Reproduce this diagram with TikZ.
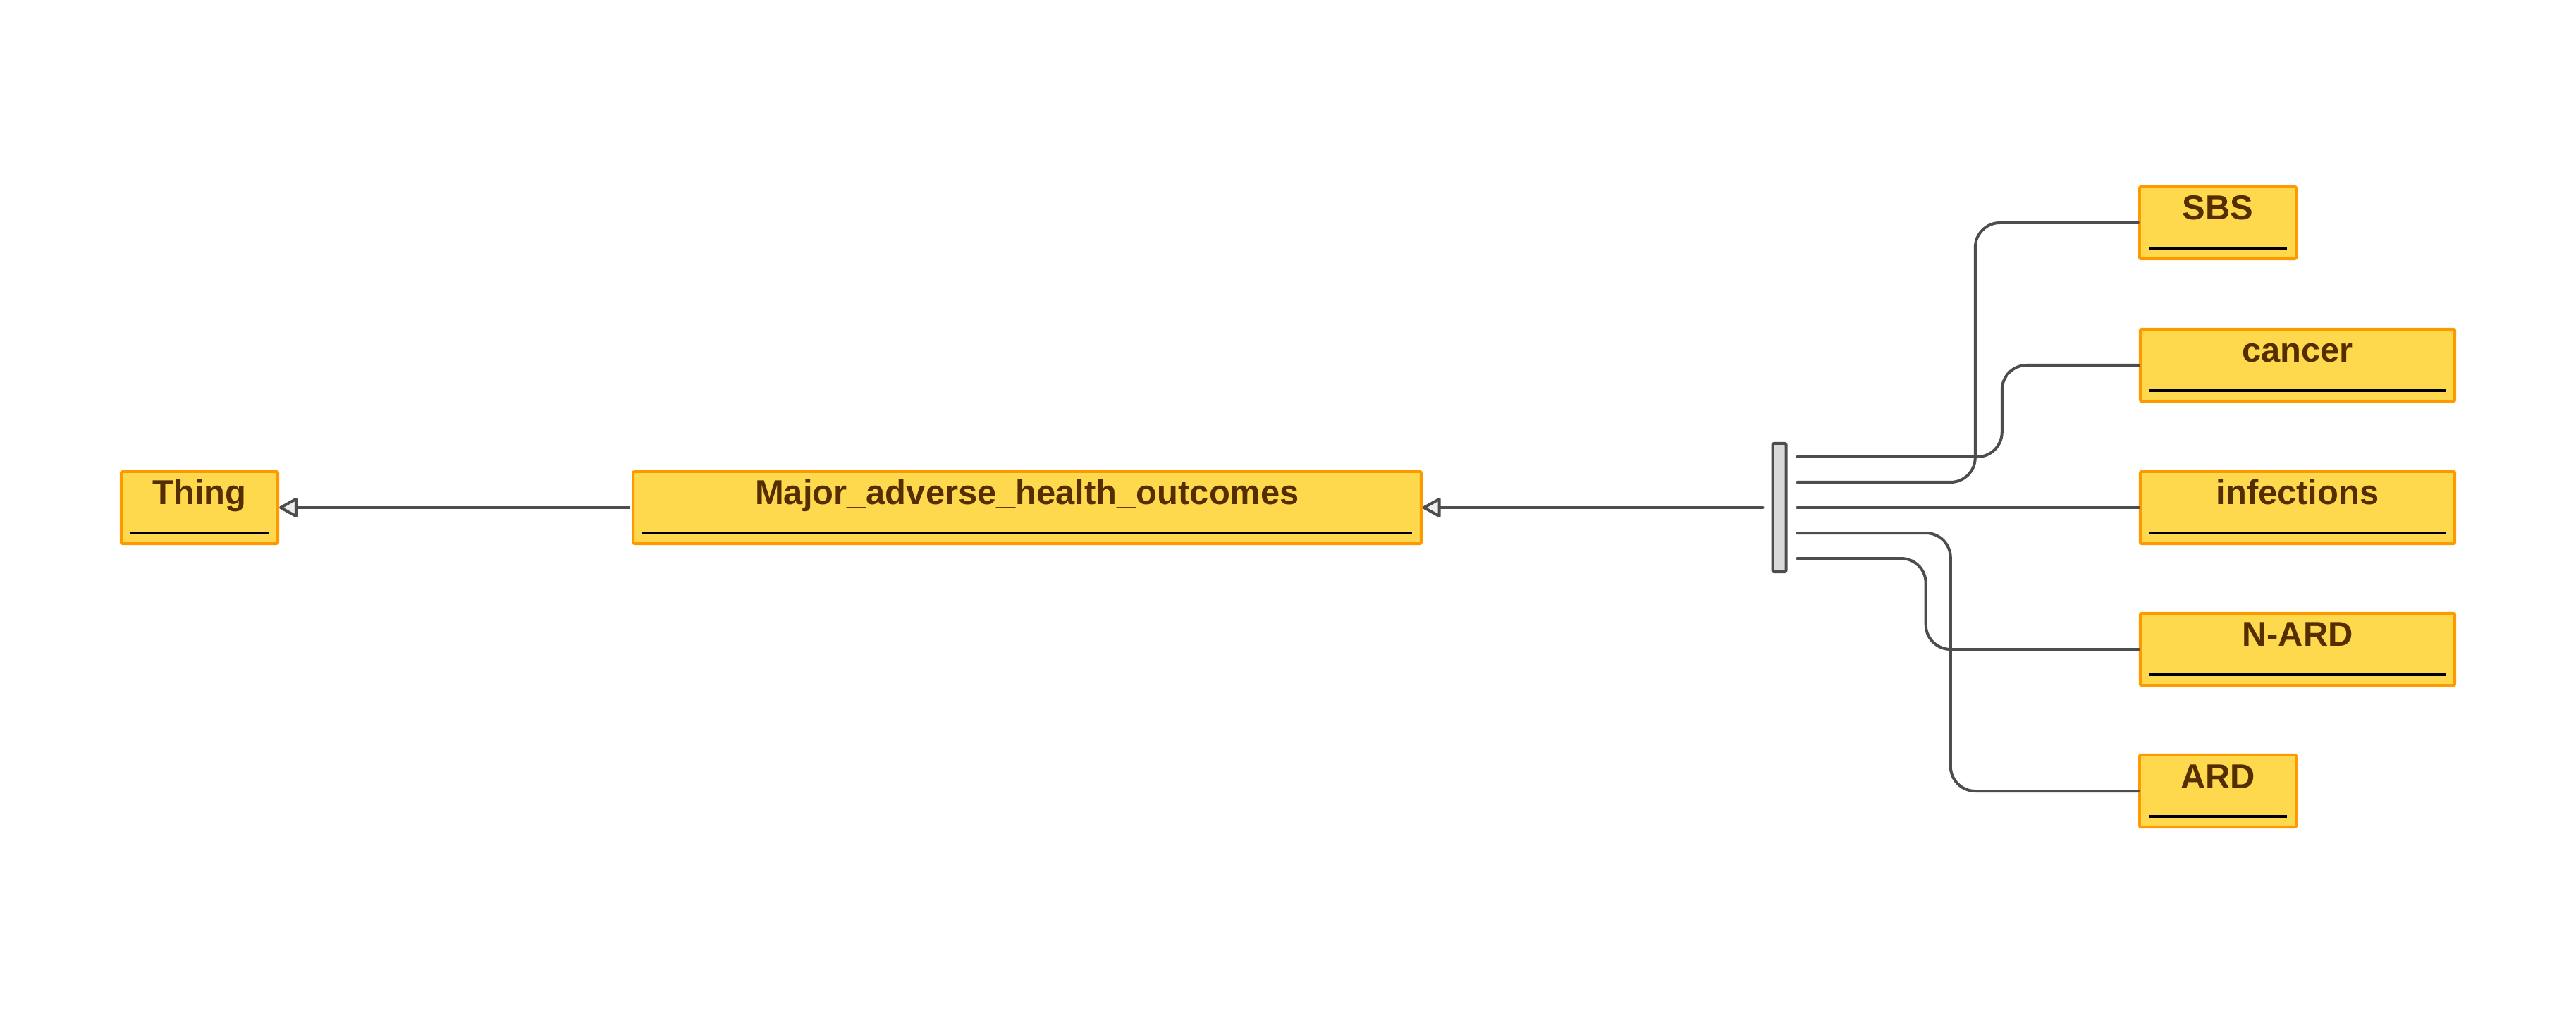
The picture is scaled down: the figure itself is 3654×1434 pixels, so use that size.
\documentclass[tikz,border=0pt]{standalone}
\usepackage{fontspec}
\setmainfont{Liberation Sans}
\usetikzlibrary{arrows.meta,calc}
\definecolor{boxfill}{HTML}{FFD94D}
\definecolor{boxline}{HTML}{FF9900}
\definecolor{boxtext}{HTML}{552E00}
\definecolor{conncol}{HTML}{4D4D4D}
\definecolor{tipfill}{HTML}{EEEEEE}
\definecolor{forkfill}{HTML}{D9D9D9}
\begin{document}
\begin{tikzpicture}[x=0.01cm,y=-0.01cm,
  cls/.style={draw=boxline, fill=boxfill, line width=0.04cm, minimum height=1.02cm,
    inner sep=0pt, text=boxtext, font=\fontsize{13.9pt}{16pt}\selectfont\bfseries,
    text height=0.30cm, text depth=0.38cm, rounded corners=0.02cm,
    path picture={\draw[black,line width=0.045cm]
      ([xshift=0.13cm,yshift=0.15cm]path picture bounding box.south west) --
      ([xshift=-0.13cm,yshift=0.15cm]path picture bounding box.south east);}},
  narrowbox/.style={cls, minimum width=2.22cm},
  widebox/.style={cls, minimum width=4.46cm},
  conn/.style={draw=conncol, line width=0.04cm, line cap=round, line join=round},
  isa/.style={-{Triangle[length=0.28cm,width=0.30cm,fill=tipfill,line join=round]}},
  elbowconn/.style={conn, rounded corners=0.35cm},
  forkbar/.style={draw=conncol, fill=forkfill, line width=0.04cm, minimum width=0.19cm,
    minimum height=1.82cm, inner sep=0pt, rounded corners=0.02cm}
]
\useasboundingbox[fill=white] (0,0) rectangle (3654,1434);

\node[narrowbox] (thing) at (283,720) {Thing};
\node[cls, minimum width=11.17cm] (major) at (1457,720) {Major\_adverse\_health\_outcomes};
\node[forkbar] (fork) at (2524,720) {};

\node[narrowbox] (sbs) at (3146,316) {SBS};
\node[widebox] (cancer) at (3259,518) {cancer};
\node[widebox] (infections) at (3259,720) {infections};
\node[widebox] (nard) at (3259,921) {N-ARD};
\node[narrowbox] (ard) at (3146,1122) {ARD};

\coordinate (fin) at ([xshift=-0.12cm]fork.west);
\coordinate (f1) at ([xshift=0.14cm,yshift=0.72cm]fork.east);
\coordinate (f2) at ([xshift=0.14cm,yshift=0.36cm]fork.east);
\coordinate (f3) at ([xshift=0.14cm]fork.east);
\coordinate (f4) at ([xshift=0.14cm,yshift=-0.36cm]fork.east);
\coordinate (f5) at ([xshift=0.14cm,yshift=-0.72cm]fork.east);

\draw[conn,isa,shorten <=0.04cm] (major.west) -- (thing.east);
\draw[conn,isa] (fin) -- (major.east);

\draw[elbowconn] (f1) -| ([xshift=-1.94cm]cancer.west) -- (cancer.west);
\draw[elbowconn] (f2) -| ([xshift=-2.31cm]sbs.west) -- (sbs.west);
\draw[conn] (f3) -- (infections.west);
\draw[elbowconn] (f4) -| ([xshift=-2.66cm]ard.west) -- (ard.west);
\draw[elbowconn] (f5) -| ([xshift=-3.02cm]nard.west) -- (nard.west);
\end{tikzpicture}
\end{document}
